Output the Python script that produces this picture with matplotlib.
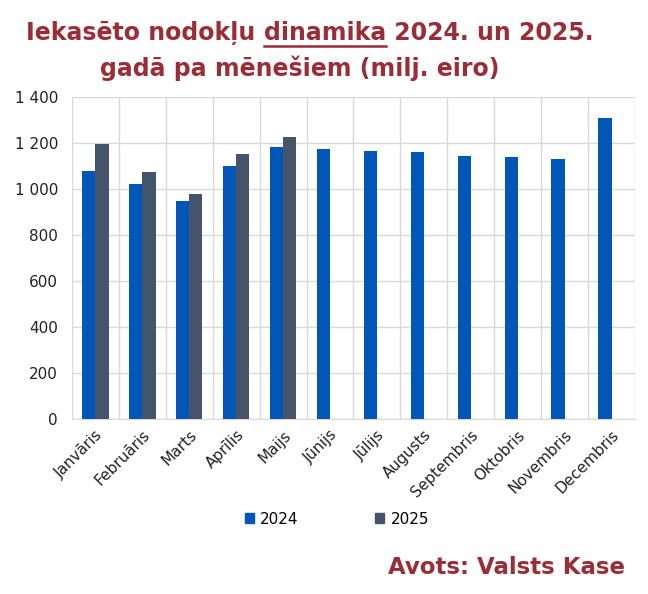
import numpy as np
import matplotlib.pyplot as plt
from matplotlib.patches import Patch
from matplotlib.lines import Line2D

months = ['Janvāris', 'Februāris', 'Marts', 'Aprīlis', 'Maijs', 'Jūnijs',
          'Jūlijs', 'Augusts', 'Septembris', 'Oktobris', 'Novembris', 'Decembris']
v2024 = [1080, 1023, 949, 1101, 1184, 1175, 1166, 1162, 1145, 1140, 1131, 1310]
v2025 = [1197, 1075, 980, 1154, 1227]
yticks = [0, 200, 400, 600, 800, 1000, 1200, 1400]

c24 = '#0057B8'
c25 = '#44546A'
red = '#9B2D37'

fig = plt.figure(figsize=(6.48, 5.94), dpi=100)
ax = fig.add_axes([72/648, 1-419/594, (635-72)/648, (419-97)/594])

x = np.arange(len(months))
w = 0.28
ax.bar(x[:len(v2024)] - w/2, v2024, w, color=c24, zorder=3)
ax.bar(x[:len(v2025)] + w/2, v2025, w, color=c25, zorder=3)

ax.set_xlim(-0.5, len(months) - 0.5)
ax.set_ylim(0, 1400)
ax.set_yticks(yticks)
ax.set_yticklabels([f'{v:,}'.replace(',', ' ') for v in yticks], fontsize=11)
ax.set_xticks(x)
ax.set_xticklabels(months, rotation=45, ha='right', rotation_mode='anchor', fontsize=11)
ax.set_xticks(np.arange(-0.5, len(months)), minor=True)
ax.grid(axis='y', color='#D9D9D9', lw=1, zorder=0)
ax.grid(axis='x', which='minor', color='#D9D9D9', lw=1, zorder=0)
ax.tick_params(axis='y', length=0, pad=10, colors='#222222')
ax.tick_params(axis='x', which='both', length=0, pad=6, colors='#222222')
for s in ['top', 'right', 'left']:
    ax.spines[s].set_visible(False)
ax.spines['bottom'].set_color('#D9D9D9')

# title, with the word "dinamika" underlined
tkw = dict(fontsize=17, fontweight='bold', color=red, va='baseline')
parts = ['Iekasēto nodokļu ', 'dinamika', ' 2024. un 2025.']
renderer = fig.canvas.get_renderer()
widths = []
for p in parts:
    tmp = fig.text(0, 0, p.replace(' ', '\u00a0'), **tkw)
    widths.append(tmp.get_window_extent(renderer).width / fig.bbox.width)
    tmp.remove()
x0 = 0.478 - sum(widths) / 2
ybase = 0.932
xs = x0
for p, wd in zip(parts, widths):
    fig.text(xs, ybase, p.replace(' ', '\u00a0'), ha='left', **tkw)
    xs += wd
ul_x0 = x0 + widths[0]
ul_x1 = ul_x0 + widths[1]
fig.add_artist(Line2D([ul_x0, ul_x1], [ybase - 0.009, ybase - 0.009],
                      color=red, lw=1.8, transform=fig.transFigure))

fig.text(0.463, 0.885, 'gadā pa mēnešiem (milj. eiro)', ha='center',
         va='center', fontsize=17, fontweight='bold', color=red)

handles = [Patch(color=c24, label='2024'), Patch(color=c25, label='2025')]
fig.legend(handles=handles, loc='center', bbox_to_anchor=(0.52, 1-519/594), ncol=2,
           frameon=False, fontsize=11, handlelength=0.6, handleheight=0.6,
           columnspacing=5.0, handletextpad=0.4)

fig.text(0.965, 1-567/594, 'Avots: Valsts Kase', ha='right', va='center',
         fontsize=16.5, fontweight='bold', color=red)

fig.savefig('out.png', dpi=100)
